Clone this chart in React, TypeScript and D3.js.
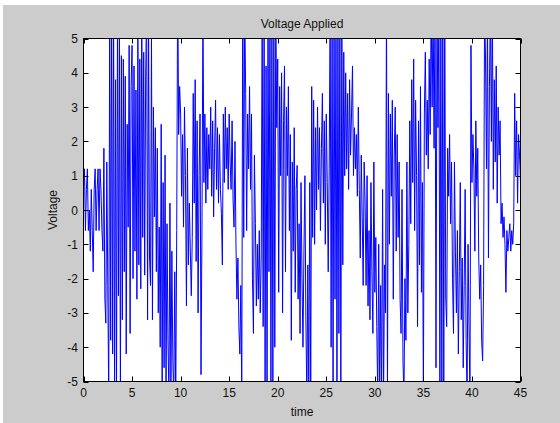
import React from "react";
import * as d3 from "d3";

// sampled voltage, dt = 0.1 s, one row per second
const dt = 0.1;
const voltage: number[] = [
  0.6, 1.2, -0.6, 0.6, 1.2, -0.6, 0, -1.2, 0.6, -0.6,
  -1.8, 0.6, 1.2, -0.6, 0.6, 1.2, -0.6, 1.2, 0.6, -0.6,
  -1.2, 1.8, -2.6, -3.3, 1.4, -2.2, -5.5, 6, -3.8, 6,
  -4.2, 6, -5.5, 3.8, -5.5, 6, -2.5, 5.2, -5.5, 4.5,
  -3.2, 4.4, -1.8, 3.9, -4.2, 2.5, -0.5, 4.8, -3.6, 3.6,
  4.8, -2.0, 4.2, -1.2, 3.5, -2.6, 5.0, -1.6, 4.4, -2.3,
  6, -0.8, 4.6, -1.9, 3.9, 6, -3.2, 5.5, -1.4, -2.2,
  5.2, -3.2, 3.0, -0.2, 2.4, -1.8, 1.8, -3.0, -0.5, -4.0,
  2.5, -5.5, 0.8, -4.6, 1.6, -5.5, -0.4, -3.8, -5.5, 0.2,
  -5.5, -1.2, -4.4, -5.5, -1.8, -5.5, -0.6, 7, 2.2, 3.6,
  2.8, 0.4, 2.2, -0.5, 3.0, 1.0, -2.8, 1.8, -1.6, 0.2,
  -1.2, -2.5, -0.8, 3.4, 0.2, 3.8, -1.5, 2.6, -3.0, 1.0,
  2.8, -4.8, -0.5, 6, 0.8, 2.8, 0.2, 2.4, 0.6, 2.2,
  1.2, 3.0, 0.4, 2.6, -0.2, 1.8, 3.2, 0.6, 2.4, 0.2,
  2.2, 0.6, -0.1, -1.6, 2.8, 0.8, 3.0, 1.2, 2.4, 0.6,
  2.8, 1.4, 0.6, 2.6, 0.3, -0.5, 2.0, -1.0, -2.6, -1.4,
  -3.4, -4.2, -2.2, -5.5, 7, -0.8, 6, 3.4, -0.6, 2.8,
  1.2, 3.6, 0.6, 2.8, -2.0, -3.6, 1.6, -0.4, -2.8, -1.0,
  -2.6, -0.6, -3.0, -1.4, 6, -3.4, 6, -5.5, 4.2, -5.5,
  6, -1.8, 6, -5.5, 5.5, -5.5, 6, -4.0, 6, 2.4,
  4.4, -2.4, 3.6, 1.0, 4.0, -3.0, 2.6, 4.2, -1.8, 3.0,
  1.0, 3.6, -0.6, 2.2, -3.8, 1.4, -1.2, 2.4, -2.4, 0.6,
  1.3, -2.6, -0.4, -3.6, 0.8, -2.0, -4.0, -1.2, 1.0, -3.2,
  -5.5, -1.6, -5.5, 0.8, -5.5, 3.6, -0.8, 3.2, -1.0, 2.4,
  0.0, 3.0, 0.6, 2.4, -0.6, 1.8, 3.4, 0.2, 2.6, -1.0,
  2.8, 0.8, -1.8, 1.2, 6, -4.0, 6, -5.5, 6, -2.6,
  6, -5.5, 6, -3.6, 6, -5.5, 6, -1.6, 4.6, 1.0,
  4.0, 1.2, 3.4, 0.6, 3.8, 1.6, 2.8, 4.2, 1.0, 2.4,
  1.2, 2.2, 0.4, 3.0, 0.6, -1.4, 1.6, -0.2, -2.2, 1.4,
  0.2, -2.2, 1.0, -2.8, -0.6, -3.2, 0.8, -1.8, -3.6, 1.4,
  -2.4, -0.8, -3.4, -5.5, -1.0, -5.5, -2.2, -5.5, 0.6, -5.5,
  -1.6, -3.0, 6, -5.5, 3.4, -1.0, 2.8, 0.4, 3.2, -2.6,
  1.6, 3.0, -1.2, 2.2, -0.8, 1.4, -2.6, -3.6, 0.6, -4.4,
  -5.5, -2.0, -3.8, 1.4, -3.0, -1.0, 2.6, -0.4, 3.8, 0.8,
  4.4, -0.6, 3.2, 1.0, -3.4, 2.6, -1.6, 3.6, -2.4, 0.8,
  -5.5, 2.8, 4.6, 1.6, 3.2, 1.2, 4.4, 2.2, 6, 3.0,
  6, 1.8, 6, -4.6, 6, 2.4, 6, -5.5, 6, -5.5,
  6, -5.5, 6, -2.6, -3.4, 1.8, 0.4, 2.2, -0.4, 1.4,
  -2.0, -3.6, 1.4, -1.2, -3.0, -0.6, -4.2, -1.8, 0.8, -3.2,
  -1.4, -4.6, -2.2, 0.6, -3.8, -5.5, -1.0, -3.4, -5.5, 4.8,
  0.8, 2.2, 1.2, -1.2, 2.6, 0.4, 1.8, -1.4, -2.6, -1.6,
  -3.8, -4.4, -2.2, 6, 4.4, 1.2, 6, -1.4, 3.6, 6,
  2.0, 6, 0.6, 3.8, 1.4, 4.2, 0.2, 3.0, 1.6, 2.6,
  -0.4, 0.2, -0.8, -0.2, -1.0, -2.4, -0.6, -1.2, -0.8, -0.4,
  -1.2, -0.6, -1.0, -0.4, 3.4, 1.0, 2.6, 0.2, 2.2, 1.6,
  0.8,
];

const xTicks = [0, 5, 10, 15, 20, 25, 30, 35, 40, 45];
const yTicks = [-5, -4, -3, -2, -1, 0, 1, 2, 3, 4, 5];

const W = 560;
const H = 423;
const left = 83.5;
const right = 520.5;
const top = 38.5;
const bottom = 381.5;
const font = "'Liberation Sans', Arial, Helvetica, sans-serif";

export default function App() {
  const x = d3.scaleLinear().domain([0, 45]).range([left, right]);
  const y = d3.scaleLinear().domain([-5, 5]).range([bottom, top]);

  const pts: [number, number][] = voltage.map((v, i) => [i * dt, v]);
  const path = d3
    .line<[number, number]>()
    .x((d) => x(d[0]))
    .y((d) => y(d[1]))(pts);

  const tl = 5;

  return (
    <svg
      width={W}
      height={H}
      style={{ position: "absolute", left: 0, top: 0, display: "block", background: "#fff" }}
    >
      <rect x={3} y={5} width={W - 3} height={H - 5} fill="#cccccc" />
      <defs>
        <clipPath id="plotclip">
          <rect x={left} y={top} width={right - left} height={bottom - top} />
        </clipPath>
      </defs>
      <rect x={left} y={top} width={right - left} height={bottom - top} fill="#fff" />

      <path d={path || ""} fill="none" stroke="#0000ff" strokeWidth={1} clipPath="url(#plotclip)" />

      {/* ticks on all sides, pointing inward */}
      <g stroke="#000" strokeWidth={1}>
        {xTicks.map((t) => (
          <g key={"xt" + t}>
            <line x1={Math.round(x(t)) + 0.5} x2={Math.round(x(t)) + 0.5} y1={bottom} y2={bottom - tl} />
            <line x1={Math.round(x(t)) + 0.5} x2={Math.round(x(t)) + 0.5} y1={top} y2={top + tl} />
          </g>
        ))}
        {yTicks.map((t) => (
          <g key={"yt" + t}>
            <line x1={left} x2={left + tl} y1={Math.round(y(t)) + 0.5} y2={Math.round(y(t)) + 0.5} />
            <line x1={right} x2={right - tl} y1={Math.round(y(t)) + 0.5} y2={Math.round(y(t)) + 0.5} />
          </g>
        ))}
      </g>
      <rect
        x={left}
        y={top}
        width={right - left}
        height={bottom - top}
        fill="none"
        stroke="#000"
        strokeWidth={1}
      />

      <g fontFamily={font} fontSize={12} fill="#111">
        {xTicks.map((t) => (
          <text key={"xl" + t} x={x(t)} y={397} textAnchor="middle">
            {t}
          </text>
        ))}
        {yTicks.map((t) => (
          <text key={"yl" + t} x={78} y={y(t) + 4.5} textAnchor="end">
            {t}
          </text>
        ))}
        <text x={(left + right) / 2} y={416} textAnchor="middle">
          time
        </text>
        <text transform={`translate(57, ${(top + bottom) / 2}) rotate(-90)`} textAnchor="middle">
          Voltage
        </text>
        <text x={(left + right) / 2} y={28} textAnchor="middle">
          Voltage Applied
        </text>
      </g>
    </svg>
  );
}
